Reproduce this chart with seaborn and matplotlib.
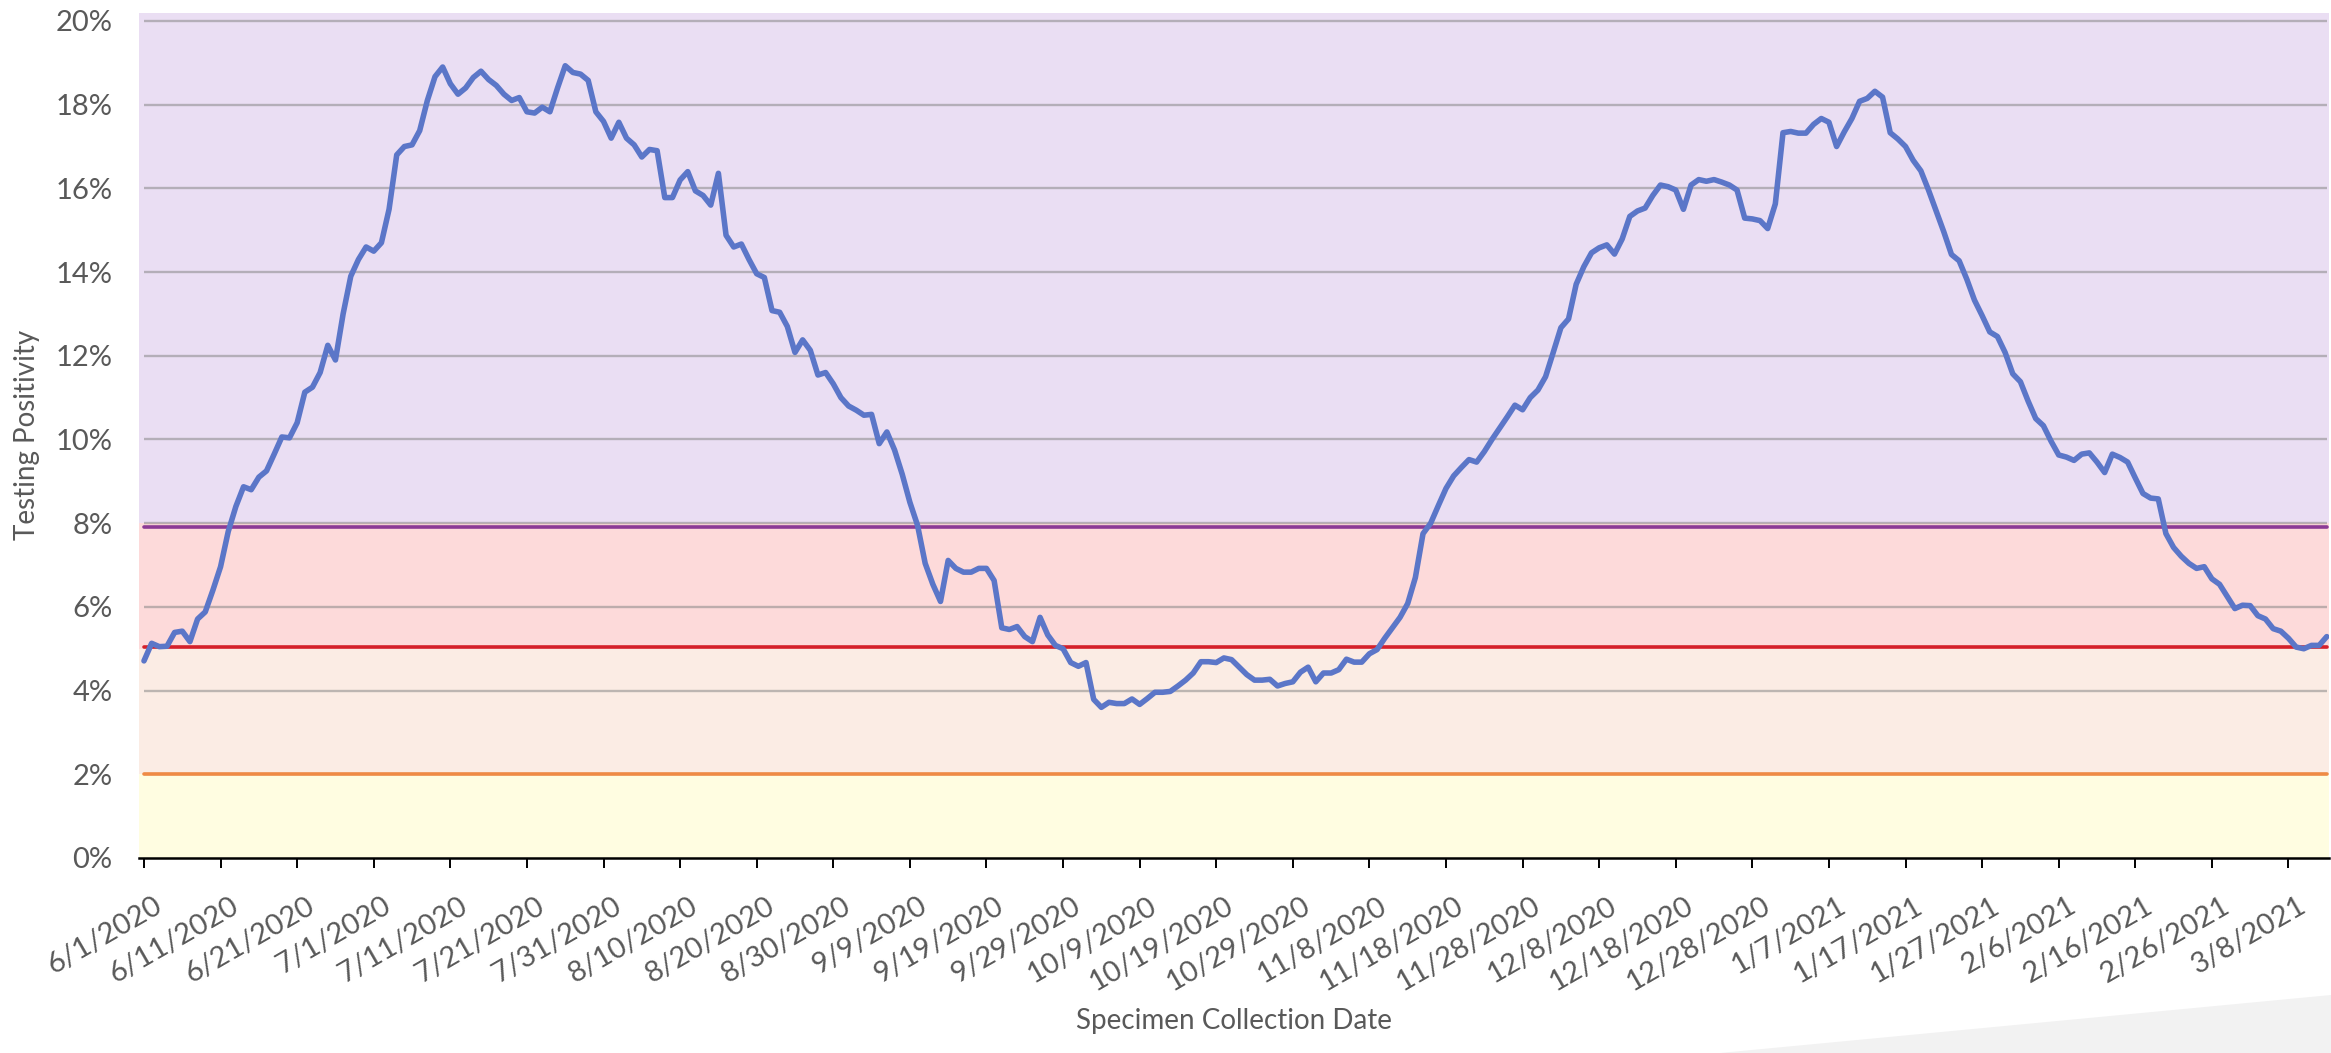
import numpy as np
import pandas as pd
import matplotlib
matplotlib.use("Agg")
import matplotlib.pyplot as plt
import seaborn as sns
from matplotlib.transforms import ScaledTranslation
from matplotlib.patches import Polygon

# ---------------- data (daily testing positivity, %) ----------------
start_date = "2020-06-01"
pos_jun = [4.71, 5.13, 5.05, 5.06, 5.39, 5.42, 5.17, 5.71, 5.88, 6.4, 6.96, 7.8, 8.4, 8.87, 8.8,
           9.1, 9.25, 9.65, 10.06, 10.04, 10.4, 11.13, 11.25, 11.6, 12.25, 11.9, 13.0, 13.9, 14.3, 14.6]
pos_jul = [14.5, 14.7, 15.5, 16.8, 17.0, 17.04, 17.38, 18.1, 18.67, 18.9, 18.5, 18.25, 18.4, 18.65,
           18.8, 18.6, 18.46, 18.25, 18.1, 18.17, 17.83, 17.8, 17.94, 17.83, 18.4, 18.93, 18.77, 18.73,
           18.58, 17.83, 17.6]
pos_aug = [17.2, 17.58, 17.2, 17.04, 16.75, 16.93, 16.9, 15.78, 15.78, 16.2, 16.4, 15.94, 15.83, 15.6,
           16.36, 14.88, 14.6, 14.67, 14.3, 13.96, 13.87, 13.08, 13.04, 12.7, 12.08, 12.38, 12.13, 11.54,
           11.6, 11.33, 11.0]
pos_sep = [10.8, 10.7, 10.58, 10.6, 9.9, 10.18, 9.75, 9.17, 8.5, 7.95, 7.04, 6.54, 6.13, 7.11, 6.92,
           6.83, 6.83, 6.92, 6.92, 6.63, 5.5, 5.46, 5.53, 5.29, 5.17, 5.75, 5.33, 5.08, 5.0, 4.67]
pos_oct = [4.58, 4.67, 3.79, 3.6, 3.72, 3.69, 3.69, 3.8, 3.67, 3.81, 3.96, 3.96, 3.98, 4.11, 4.25,
           4.42, 4.69, 4.69, 4.67, 4.78, 4.74, 4.56, 4.38, 4.25, 4.25, 4.27, 4.11, 4.17, 4.21, 4.44, 4.56]
pos_nov = [4.21, 4.42, 4.42, 4.5, 4.75, 4.68, 4.68, 4.88, 4.98, 5.25, 5.5, 5.75, 6.08, 6.7, 7.75,
           8.0, 8.42, 8.83, 9.13, 9.33, 9.52, 9.46, 9.71, 10.0, 10.27, 10.54, 10.82, 10.71, 11.0, 11.18]
pos_dec = [11.5, 12.08, 12.67, 12.88, 13.71, 14.13, 14.46, 14.58, 14.65, 14.43, 14.79, 15.33, 15.46,
           15.53, 15.83, 16.08, 16.04, 15.96, 15.5, 16.08, 16.21, 16.17, 16.21, 16.15, 16.08, 15.96,
           15.29, 15.27, 15.23, 15.04, 15.63]
pos_jan = [17.33, 17.36, 17.32, 17.32, 17.53, 17.67, 17.58, 17.0, 17.35, 17.67, 18.08, 18.15, 18.32,
           18.18, 17.33, 17.18, 17.0, 16.67, 16.42, 15.96, 15.46, 14.96, 14.42, 14.27, 13.83, 13.33,
           12.96, 12.57, 12.46, 12.08, 11.57]
pos_feb = [11.38, 10.92, 10.5, 10.33, 9.96, 9.63, 9.58, 9.5, 9.65, 9.68, 9.46, 9.21, 9.65, 9.57, 9.46,
           9.08, 8.71, 8.6, 8.58, 7.75, 7.42, 7.21, 7.04, 6.92, 6.96, 6.67, 6.54, 6.25]
pos_mar = [5.96, 6.04, 6.03, 5.79, 5.71, 5.48, 5.42, 5.25, 5.04, 5.0, 5.08, 5.08, 5.29]

# threshold reference lines (%)
threshold_purple = 7.9
threshold_red = 5.05
threshold_orange = 2.0

# background band edges (%)
band_edges = [0, 2, 5, 8, 20.2]

x_tick_labels = ["6/1/2020", "6/11/2020", "6/21/2020", "7/1/2020", "7/11/2020", "7/21/2020",
                 "7/31/2020", "8/10/2020", "8/20/2020", "8/30/2020", "9/9/2020", "9/19/2020",
                 "9/29/2020", "10/9/2020", "10/19/2020", "10/29/2020", "11/8/2020", "11/18/2020",
                 "11/28/2020", "12/8/2020", "12/18/2020", "12/28/2020", "1/7/2021", "1/17/2021",
                 "1/27/2021", "2/6/2021", "2/16/2021", "2/26/2021", "3/8/2021"]
y_ticks = [0, 2, 4, 6, 8, 10, 12, 14, 16, 18, 20]
y_tick_labels = ["0%", "2%", "4%", "6%", "8%", "10%", "12%", "14%", "16%", "18%", "20%"]

# ---------------- build frame ----------------
values = (pos_jun + pos_jul + pos_aug + pos_sep + pos_oct + pos_nov + pos_dec
          + pos_jan + pos_feb + pos_mar)
dates = pd.date_range(start_date, periods=len(values), freq="D")
df = pd.DataFrame({"date": dates, "positivity": values})

# ---------------- styling ----------------
sns.set_style("white")
plt.rcParams["font.family"] = ["Lato", "DejaVu Sans"]
text_color = "#595959"

W, H = 2331, 1053
fig = plt.figure(figsize=(W / 100, H / 100), dpi=100)
ax_left, ax_right, ax_bottom_px, ax_top_px = 139, 2329, 858, 12.6
ax = fig.add_axes([ax_left / W, 1 - ax_bottom_px / H,
                   (ax_right - ax_left) / W, (ax_bottom_px - ax_top_px) / H])

# decorative swoosh at bottom right
fig.add_artist(Polygon([[1720 / W, 0], [1.0, 1 - 995 / H], [1.0, 0]], closed=True,
                       transform=fig.transFigure, facecolor="#F2F2F2", edgecolor="none", zorder=0))

# background bands
band_colors = ["#FFFDE1", "#FBECE4", "#FDDADA", "#EADEF3"]
for (lo, hi), c in zip(zip(band_edges[:-1], band_edges[1:]), band_colors):
    ax.axhspan(lo, hi, color=c, zorder=0, lw=0)

x0 = dates[0]
x1 = dates[-1]
# horizontal gridlines
ax.hlines(y_ticks[1:], x0, x1, colors="#7F7F7F", alpha=0.5, lw=1.7, zorder=1)

# threshold lines
for yv, c in [(threshold_orange, "#EF8A45"), (threshold_red, "#D5202A"), (threshold_purple, "#8B3A95")]:
    tdf = pd.DataFrame({"date": [x0, x1], "v": [yv, yv]})
    sns.lineplot(data=tdf, x="date", y="v", ax=ax, color=c, lw=2.6, zorder=2)

# data line
sns.lineplot(data=df, x="date", y="positivity", ax=ax, color="#5B76C8", lw=4.0, zorder=3)

# axes limits
ax.set_xlim(x0 - pd.Timedelta(hours=15.6), x1 + pd.Timedelta(hours=7))
ax.set_ylim(band_edges[0], band_edges[-1])

# y axis
ax.set_yticks(y_ticks)
ax.set_yticklabels(y_tick_labels)
ax.tick_params(axis="y", length=0, pad=19, labelsize=21, labelcolor=text_color)

# x axis
tick_dates = pd.to_datetime(x_tick_labels, format="%m/%d/%Y")
ax.set_xticks(tick_dates)
ax.set_xticklabels(x_tick_labels, rotation=30, ha="right", va="top", rotation_mode="anchor")
ax.tick_params(axis="x", length=7, width=1.4, color="black", direction="out",
               pad=18, labelsize=21, labelcolor=text_color, bottom=True)
offset = ScaledTranslation(0.09, 0, fig.dpi_scale_trans)
for lab in ax.get_xticklabels():
    lab.set_transform(lab.get_transform() + offset)

for s in ["top", "right", "left"]:
    ax.spines[s].set_visible(False)
ax.spines["bottom"].set_color("black")
ax.spines["bottom"].set_linewidth(1.8)
ax.spines["bottom"].set_zorder(4)
ax.grid(False)

ax.set_ylabel("Testing Positivity", fontsize=20, color=text_color)
ax.yaxis.set_label_coords(-0.045, 0.5)
ax.set_xlabel("Specimen Collection Date", fontsize=20, color=text_color)
ax.xaxis.set_label_coords(0.5, -0.178)

fig.savefig("out.png", dpi=100)
